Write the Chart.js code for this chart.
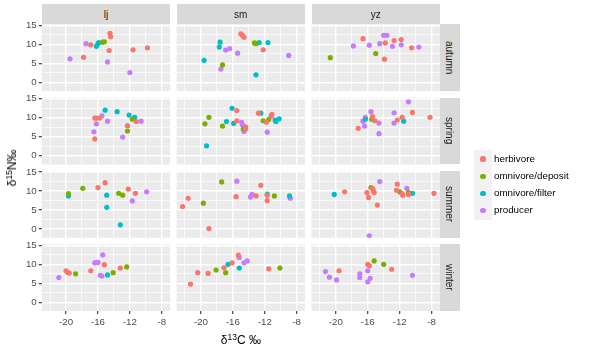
<!DOCTYPE html>
<html><head><meta charset="utf-8">
<script src="https://cdn.jsdelivr.net/npm/chart.js@4/dist/chart.umd.min.js"></script>
<style>
body{margin:0;width:590px;height:351px;background:#fff;position:relative;overflow:hidden;font-family:"Liberation Sans",Arial,sans-serif;}
canvas{position:absolute;left:0;top:0;}
.strip{position:absolute;background:#D9D9D9;color:#1A1A1A;font-size:10px;display:flex;align-items:center;justify-content:center;}
.vstrip{writing-mode:vertical-rl;}
.lg{position:absolute;font-size:9.8px;color:#000;line-height:1;}
.key{position:absolute;width:17.3px;height:17.3px;background:#F2F2F2;}
.dot{position:absolute;width:5.2px;height:5.2px;border-radius:50%;}
.title{position:absolute;font-size:12px;color:#000;white-space:nowrap;}
</style></head>
<body>
<script>
// ---- data ----
const groups = ['herbivore','omnivore/deposit','omnivore/filter','producer'];
const colors = ['#F8766D','#7CAE00','#00BFC4','#C77CFF'];
const sites = ['lj','sm','yz'];
const seasons = ['autumn','spring','summer','winter'];
const xGridValues = [-22,-20,-18,-16,-14,-12,-10,-8];
const xMajorTicks = [-20,-16,-12,-8];
const yGridValues = [0,2.5,5,7.5,10,12.5,15];
const yMajorTicks = [0,5,10,15];

// points: [d13C, d15N, group index]
const lj_autumn = [[-17.5,10.2,3],[-16.9,9.9,0],[-16.2,9.5,2],[-16.0,10.2,2],[-15.9,10.5,2],[-15.2,10.7,1],[-15.4,10.6,1],[-14.5,12.9,0],[-14.4,12.0,0],[-14.6,8.4,0],[-14.8,5.4,3],[-17.8,6.6,0],[-19.5,6.2,3],[-11.6,8.6,0],[-9.8,9.1,0],[-12.0,2.6,3]];
const sm_autumn = [[-15.0,12.8,0],[-14.8,12.4,0],[-14.6,11.9,0],[-17.6,10.6,2],[-17.7,9.3,2],[-16.9,8.5,3],[-16.4,8.9,3],[-15.4,7.7,3],[-19.6,5.8,2],[-17.3,4.6,1],[-17.5,3.5,3],[-13.3,10.4,1],[-13.1,10.2,1],[-12.7,10.5,2],[-11.6,10.5,2],[-12.2,8.6,0],[-9.0,7.1,3],[-13.1,2.0,2]];
const yz_autumn = [[-20.7,6.5,1],[-17.8,9.6,3],[-16.6,11.5,0],[-15.8,9.8,3],[-14.5,10.2,3],[-14.0,12.4,3],[-13.6,12.4,3],[-13.8,10.4,0],[-15.0,7.6,1],[-13.9,6.1,0],[-12.7,11.0,0],[-11.8,11.3,0],[-12.9,9.5,3],[-11.8,9.9,3],[-10.5,9.1,0],[-9.6,9.3,3]];
const lj_spring = [[-15.1,12.0,2],[-13.6,11.6,2],[-12.1,10.7,2],[-11.4,10.1,2],[-16.4,9.9,0],[-16.2,9.9,1],[-15.8,9.9,0],[-15.5,10.5,3],[-14.8,9.1,3],[-16.2,8.4,3],[-16.5,6.3,3],[-16.4,4.4,0],[-12.3,7.9,0],[-12.3,6.5,1],[-12.9,4.9,3],[-11.7,9.6,1],[-11.2,9.0,0],[-10.6,9.1,3]];
const sm_spring = [[-16.1,12.5,2],[-15.5,11.9,0],[-19.0,10.1,1],[-19.5,8.4,1],[-17.3,7.8,1],[-16.8,9.0,2],[-15.9,8.5,2],[-15.5,9.2,0],[-14.9,8.8,3],[-14.8,8.1,3],[-14.4,7.6,0],[-14.4,7.0,0],[-14.7,7.0,1],[-14.6,6.4,3],[-12.8,11.2,0],[-12.5,11.2,2],[-11.2,10.4,0],[-11.1,10.9,0],[-12.2,9.2,1],[-11.8,8.8,0],[-11.5,9.5,1],[-10.7,9.4,2],[-10.6,9.0,2],[-10.2,9.7,2],[-11.7,6.2,3],[-19.3,2.6,2]];
const yz_spring = [[-10.9,14.2,3],[-15.6,11.6,3],[-12.7,11.3,3],[-10.4,11.4,0],[-8.2,10.1,0],[-11.7,10.1,0],[-12.3,9.4,0],[-11.5,9.1,2],[-12.7,8.6,3],[-16.3,10.1,3],[-15.4,10.3,0],[-16.3,9.6,2],[-16.6,9.1,3],[-15.5,9.6,1],[-15.1,9.2,0],[-14.6,8.6,3],[-16.4,7.8,3],[-17.2,7.2,0],[-14.6,5.8,3]];
const lj_summer = [[-19.7,9.3,1],[-19.7,8.7,2],[-17.9,10.7,1],[-16.0,10.9,0],[-15.1,12.2,0],[-14.9,8.9,2],[-14.9,5.7,2],[-13.2,1.1,2],[-13.4,9.4,1],[-12.9,8.9,1],[-12.2,10.5,0],[-11.3,9.4,0],[-11.7,7.4,3],[-9.9,9.8,3]];
const sm_summer = [[-22.3,5.9,0],[-21.6,8.1,0],[-19.7,6.8,1],[-19.0,0.1,0],[-17.4,12.4,1],[-15.5,12.6,3],[-15.6,8.5,0],[-13.8,8.4,3],[-13.6,9.1,3],[-13.1,8.7,0],[-12.5,11.5,0],[-11.7,9.2,2],[-11.7,8.9,0],[-11.7,7.5,0],[-10.8,8.7,1],[-8.9,8.7,2],[-8.8,8.1,3]];
const yz_summer = [[-20.2,9.1,2],[-18.9,9.8,0],[-15.6,10.9,1],[-15.4,10.7,0],[-15.3,10.1,0],[-15.2,9.6,0],[-16.1,9.6,0],[-15.9,8.3,0],[-14.5,12.5,3],[-14.8,6.3,0],[-15.8,-1.8,3],[-12.3,11.8,0],[-12.4,10.2,0],[-11.1,10.7,3],[-12.0,9.8,1],[-11.7,9.3,0],[-11.6,8.9,0],[-10.9,9.6,1],[-10.9,9.1,0],[-10.4,9.4,2],[-7.7,9.4,0]];
const lj_winter = [[-20.9,6.5,3],[-20.0,8.3,0],[-19.8,7.9,0],[-19.6,7.7,0],[-18.8,7.5,1],[-16.9,8.3,0],[-16.4,10.4,3],[-16.2,10.5,3],[-16.0,10.5,3],[-15.4,12.5,3],[-15.2,9.9,0],[-15.7,7.1,3],[-15.5,6.9,3],[-14.8,7.2,2],[-14.1,7.8,1],[-13.2,9.0,0],[-12.4,9.3,1]];
const sm_winter = [[-21.3,4.8,0],[-20.4,7.8,0],[-19.1,7.6,0],[-18.1,8.5,1],[-16.9,7.8,1],[-17.1,9.1,0],[-16.6,10.0,2],[-16.1,10.4,0],[-15.3,12.4,0],[-15.2,11.8,3],[-15.2,9.0,2],[-14.6,10.4,3],[-14.2,10.9,3],[-11.5,8.8,0],[-10.1,9.0,1]];
const yz_winter = [[-21.3,8.1,3],[-20.8,6.6,3],[-19.9,5.9,3],[-19.6,8.3,0],[-17.0,7.5,3],[-17.0,6.5,3],[-16.0,10.0,0],[-15.8,9.6,0],[-16.0,8.3,3],[-15.2,10.9,1],[-15.7,6.3,3],[-16.0,5.4,3],[-14.0,10.0,1],[-13.0,8.7,0],[-10.4,7.1,3]];

const panels = {
  lj:{autumn:lj_autumn,spring:lj_spring,summer:lj_summer,winter:lj_winter},
  sm:{autumn:sm_autumn,spring:sm_spring,summer:sm_summer,winter:sm_winter},
  yz:{autumn:yz_autumn,spring:yz_spring,summer:yz_summer,winter:yz_winter}
};

// ---- layout ----
const W = 590, H = 351;
const colX = [41.7, 176.6, 311.5], panelW = 128.4;
const rowY = [24.3, 97.6, 170.9, 244.2], panelH = 66.8;
const xMin = -23.05, xMax = -6.96, yMin = -2.3, yMax = 15.3;
const Y_AXIS_W = 30, X_AXIS_H = 17;
const FONT = '"Liberation Sans", Arial, sans-serif';

const bgPlugin = {id:'panelbg', beforeDraw(chart){
  const a = chart.chartArea, ctx = chart.ctx;
  ctx.save(); ctx.fillStyle = '#EBEBEB';
  ctx.fillRect(a.left, a.top, a.right - a.left, a.bottom - a.top); ctx.restore();
}};

function axisOpts(gridVals, majors, show, min, max, isX){
  const size = show ? (isX ? X_AXIS_H : Y_AXIS_W) : 0;
  return {
    type:'linear', min, max,
    afterBuildTicks: s => { s.ticks = gridVals.map(v => ({value:v})); },
    afterFit: s => { if (isX) s.height = size; else s.width = size; },
    border:{display:false},
    grid:{
      color:'#FFFFFF',
      lineWidth: ctx => majors.includes(ctx.tick.value) ? 1.4 : 0.7,
      drawTicks: show, tickLength: 3,
      tickColor: ctx => majors.includes(ctx.tick.value) ? '#333333' : 'rgba(0,0,0,0)',
      tickWidth: 1.1
    },
    ticks:{
      display: show, padding: isX ? 2.5 : 2, color:'#4D4D4D', autoSkip:false, maxRotation:0, minRotation:0,
      font:{size:9.7, family:FONT},
      callback: v => majors.includes(v) ? String(v) : ''
    }
  };
}

seasons.forEach((season, r) => sites.forEach((site, c) => {
  const pts = panels[site][season];
  const showX = r === seasons.length - 1, showY = c === 0;
  const cv = document.createElement('canvas');
  cv.width = W; cv.height = H; cv.style.width = W + 'px'; cv.style.height = H + 'px';
  document.body.appendChild(cv);
  const datasets = groups.map((g, gi) => ({
    label: g,
    data: pts.filter(p => p[2] === gi).map(p => ({x:p[0], y:p[1]})),
    backgroundColor: colors[gi], borderColor: colors[gi],
    pointRadius: 2.6, borderWidth: 0, pointHoverRadius: 2.6
  }));
  new Chart(cv, {
    type:'scatter', data:{datasets}, plugins:[bgPlugin],
    options:{
      responsive:false, animation:false, events:[],
      layout:{padding:{
        left: colX[c] - (showY ? Y_AXIS_W : 0),
        top: rowY[r],
        right: W - colX[c] - panelW,
        bottom: H - rowY[r] - panelH - (showX ? X_AXIS_H : 0)
      }},
      plugins:{legend:{display:false}, tooltip:{enabled:false}},
      scales:{
        x: axisOpts(xGridValues, xMajorTicks, showX, xMin, xMax, true),
        y: axisOpts(yGridValues, yMajorTicks, showY, yMin, yMax, false)
      }
    }
  });
}));

// strips
function addDiv(cls, css, html){
  const d = document.createElement('div'); d.className = cls;
  Object.assign(d.style, css); d.innerHTML = html; document.body.appendChild(d); return d;
}
sites.forEach((s, c) => addDiv('strip', {left:colX[c]+'px', top:'4px', width:panelW+'px', height:(rowY[0]-4)+'px'}, s));
seasons.forEach((s, r) => addDiv('strip vstrip', {left:(colX[2]+panelW)+'px', top:rowY[r]+'px', width:'20px', height:panelH+'px'}, s));

// axis titles
addDiv('title', {left:'240.8px', top:'333px', transform:'translateX(-50%)'}, 'δ<sup style="font-size:8.5px;vertical-align:4px;line-height:0">13</sup>C ‰');
addDiv('title', {left:'12px', top:'167.5px', transform:'translate(-50%,-50%) rotate(-90deg)'}, 'δ<sup style="font-size:8.5px;vertical-align:4px;line-height:0">15</sup>N‰');

// legend
const legendY = [159, 176.3, 193.6, 210.9];
groups.forEach((g, i) => {
  addDiv('key', {left:(483-8.65)+'px', top:(legendY[i]-8.65)+'px'}, '');
  addDiv('dot', {left:(483-2.6)+'px', top:(legendY[i]-2.6)+'px', background:colors[i]}, '');
  addDiv('lg', {left:'494px', top:(legendY[i]-5.5)+'px'}, g);
});
</script>
</body></html>
